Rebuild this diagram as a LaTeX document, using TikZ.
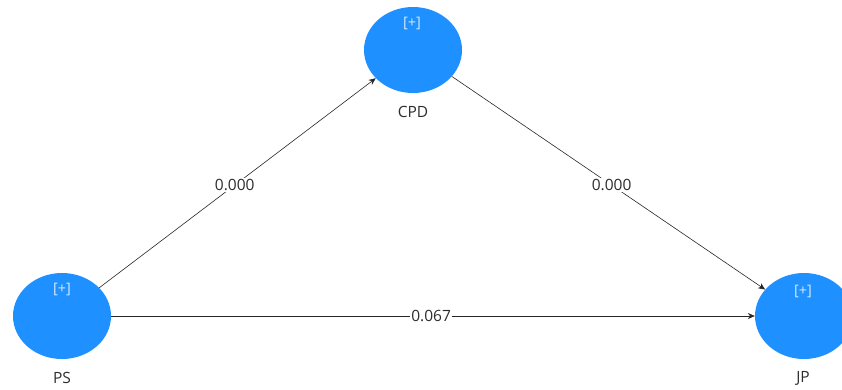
\documentclass[tikz,border=0pt]{standalone}
\usepackage{fontspec}
\setmainfont{Open Sans}
\usetikzlibrary{arrows.meta,shapes.geometric}
\definecolor{latentblue}{RGB}{30,144,255}
\definecolor{labelgray}{RGB}{45,45,45}
\begin{document}
\begin{tikzpicture}[x=1pt,y=-1pt,
  latent/.style={ellipse, fill=latentblue, minimum width=98pt, minimum height=86pt, inner sep=0pt},
  expand/.style={text=white!80!latentblue, font=\fontsize{14.5}{16}\selectfont},
  vname/.style={text=labelgray, font=\fontsize{15.5}{18}\selectfont},
  path/.style={draw=black!85, line width=0.6pt, -{Stealth[length=7pt,width=6pt]}},
  coef/.style={fill=white, text=labelgray, font=\fontsize{15.5}{18}\selectfont, inner sep=1.5pt}]
\useasboundingbox (0,0) rectangle (842,389);
\clip (0,0) rectangle (842,389);
% latent variables
\node[latent] (CPD) at (413,50) {};
\node[latent] (PS) at (62,316) {};
\node[latent] (JP) at (804,316) {};
% expand markers
\node[expand] at (412,23) {[+]};
\node[expand] at (62,289) {[+]};
\node[expand] at (803,291) {[+]};
% variable names
\node[vname] (CPDn) at (413,112) {CPD};
\node[vname] (PSn) at (62,378) {PS};
\node[vname] (JPn) at (803,378) {JP};
% structural paths with p-values
\draw[path] (PS) -- node[coef, pos=0.49] {0.000} (CPD);
\draw[path] (CPD) -- node[coef, pos=0.51] {0.000} (JP);
\draw[path] (PS) -- node[coef, pos=0.497] {0.067} (JP);
\end{tikzpicture}
\end{document}
